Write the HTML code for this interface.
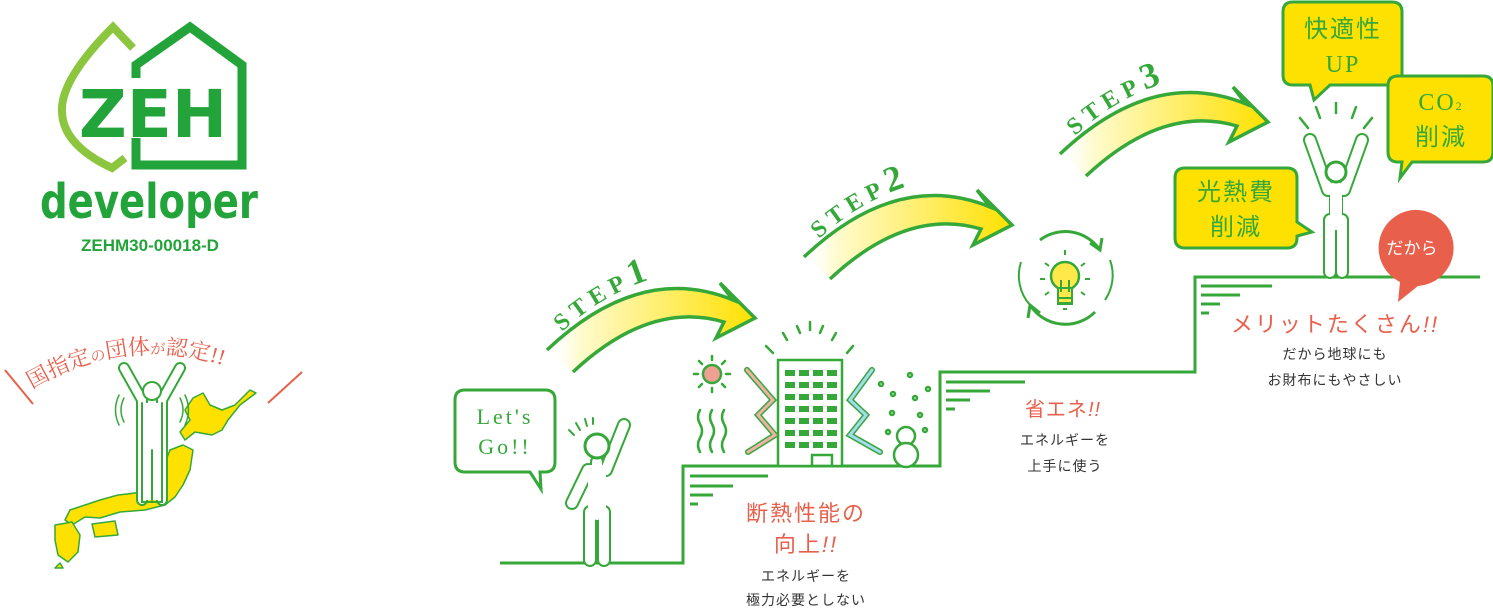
<!DOCTYPE html>
<html><head><meta charset="utf-8"><style>
html,body{margin:0;padding:0;background:#fff;}
svg{display:block;}
text{font-family:"Liberation Sans","Noto Sans CJK JP",sans-serif;}
text.jp{font-family:"Liberation Serif","Noto Serif CJK SC","Noto Sans CJK JP",serif;}
text.st{font-family:"Liberation Serif",serif;font-weight:bold;}
text.dj{font-family:"DejaVu Sans",sans-serif;font-weight:bold;}
</style></head><body>
<svg width="1493" height="612" viewBox="0 0 1493 612" xmlns="http://www.w3.org/2000/svg">
<defs>
<linearGradient id="ag" x1="0" y1="0" x2="1" y2="0">
<stop offset="0" stop-color="#fff" stop-opacity="0"/><stop offset="0.15" stop-color="#fffbd0"/><stop offset="1" stop-color="#ffe100"/>
</linearGradient>
<g id="arrow">
<path d="M547,350 Q640,262 733,300 L720,283 L755,318 L716,338 L724,322 Q650,300 573,372 Z" fill="url(#ag)" stroke="none"/>
<path d="M547,350 Q640,262 733,300 L720,283 L755,318 L716,338 L724,322 Q650,300 573,372" fill="none" stroke="#36a83a" stroke-width="3.5" stroke-linejoin="miter"/>
</g>
<path id="tp" d="M562,332 Q620,278 700,268"/>
</defs>

<!-- ZEH logo -->
<path d="M133,48 L113,27 Q60,80 62,112 Q63,145 112,168 L125,158" fill="none" stroke="#8cc63f" stroke-width="8"/>
<path d="M136,138 L136,165 L242,165 L242,65 L190,27 L136,65 L136,78" fill="none" stroke="#22a43a" stroke-width="9" stroke-linejoin="miter"/>
<text class="dj" x="153" y="137" font-size="66" fill="#22a43a" text-anchor="middle">ZEH</text>
<text class="dj" x="149" y="218" font-size="48" fill="#22a43a" text-anchor="middle" textLength="218" lengthAdjust="spacingAndGlyphs">developer</text>
<text x="150" y="251" font-size="17" font-weight="bold" fill="#22a43a" text-anchor="middle">ZEHM30-00018-D</text>

<!-- certification -->
<line x1="5" y1="370" x2="33" y2="404" stroke="#e8604c" stroke-width="2"/>
<line x1="268" y1="403" x2="302" y2="372" stroke="#e8604c" stroke-width="2"/>
<path id="arc" d="M30,390 Q150,318 280,390" fill="none"/>
<text class="jp" font-size="22" fill="#e8604c"><textPath href="#arc" startOffset="2">国指定<tspan font-size="15">の</tspan>団体<tspan font-size="15">が</tspan>認定!!</textPath></text>
<g fill="#ffe100" stroke="#36a83a" stroke-width="1.5" stroke-linejoin="round">
<path d="M193,398 L203,393 L210,405 L222,410 L235,405 L250,390 L256,393 L240,405 L228,420 L222,430 L212,435 L195,432 L185,440 L180,432 L190,420 L185,410 Z"/>
<path d="M183,445 L193,450 L190,470 L183,485 L175,497 L165,505 L145,510 L120,512 L100,518 L85,517 L72,525 L65,520 L70,510 L85,505 L100,500 L118,495 L135,493 L150,488 L162,470 L170,450 Z"/>
<path d="M92,524 L115,521 L118,535 L95,537 Z"/>
<path d="M55,525 L72,522 L80,535 L78,552 L68,562 L58,555 L55,540 Z"/>
<path d="M55,568 L60,563 L63,568 Z"/>
</g>
<g stroke-linecap="round" fill="none">
<path d="M124,368 L142,400 L142,500 M180,368 L162,400 L162,500" stroke="#36a83a" stroke-width="12"/>
<path d="M124,368 L142,400 L142,500 M180,368 L162,400 L162,500" stroke="#fff" stroke-width="8"/>
<path d="M142,403 L162,403 L162,500 L142,500 Z" fill="#fff" stroke="none"/>
<line x1="152" y1="450" x2="152" y2="500" stroke="#36a83a" stroke-width="2"/>
<path d="M142,403 L142,502 L162,502 L162,403" stroke="#36a83a" stroke-width="2"/>
<circle cx="152" cy="391" r="9" fill="#fff" stroke="#36a83a" stroke-width="2"/>
<path d="M124,398 Q118,410 124,422 M119,395 Q112,410 119,425 M180,398 Q186,410 180,422 M185,395 Q192,410 185,425" stroke="#36a83a" stroke-width="1.5"/>
</g>

<!-- staircase -->
<g stroke="#36a83a" stroke-width="3" fill="none">
<path d="M500,563 L683,563 L683,466 L940,466 L940,372 L1195,372 L1195,277 L1480,277"/>
<path d="M690,476 L768,476 M690,486 L733,486 M690,495 L713,495 M690,504 L698,504"/>
<path d="M946,382 L1025,382 M946,391 L990,391 M946,400 L970,400 M946,409 L955,409"/>
<path d="M1201,286 L1272,286 M1201,295 L1240,295 M1201,304 L1220,304 M1201,313 L1209,313"/>
</g>

<!-- arrows -->
<use href="#arrow"/>
<use href="#arrow" transform="translate(257,-93)"/>
<use href="#arrow" transform="translate(513,-196)"/>
<g fill="#36a83a">
<text class="st" font-size="24" letter-spacing="6"><textPath href="#tp">STEP<tspan font-size="36">1</tspan></textPath></text>
<text class="st" font-size="24" letter-spacing="6" transform="translate(257,-93)"><textPath href="#tp">STEP<tspan font-size="36">2</tspan></textPath></text>
<text class="st" font-size="24" letter-spacing="6" transform="translate(513,-196)"><textPath href="#tp">STEP<tspan font-size="36">3</tspan></textPath></text>
</g>

<!-- Let's go -->
<path d="M465,390 L545,390 Q555,390 555,400 L555,462 Q555,472 545,472 L540,472 L541,489 L530,472 L465,472 Q455,472 455,462 L455,400 Q455,390 465,390 Z" fill="#fff" stroke="#36a83a" stroke-width="3"/>
<text class="jp" x="505" y="424" font-size="22" fill="#36a83a" text-anchor="middle" letter-spacing="3">Let's</text>
<text class="jp" x="505" y="454" font-size="22" fill="#36a83a" text-anchor="middle" letter-spacing="3">Go!!</text>
<g stroke-linecap="round" fill="none">
<path d="M597,462 L597,515 M590,512 L590,560 M604,512 L604,560 M588,470 L572,503 M606,470 L624,425" stroke="#36a83a" stroke-width="14"/>
<path d="M597,462 L597,515 M590,512 L590,560 M604,512 L604,560 M588,470 L572,503 M606,470 L624,425" stroke="#fff" stroke-width="10"/>
<rect x="588" y="465" width="18" height="48" fill="#fff" stroke="none"/>
<circle cx="597" cy="446" r="12" fill="#fff" stroke="#36a83a" stroke-width="3"/>
<path d="M569,430 L574,435 M576,423 L580,430 M585,419 L587,426 M593,418 L593,424" stroke="#36a83a" stroke-width="2"/>
</g>

<!-- building scene -->
<g stroke="#36a83a" stroke-width="2.5" fill="none" stroke-linecap="round">
<circle cx="712" cy="374" r="9" fill="#f0a093"/>
<path d="M712,356 L712,360 M712,388 L712,392 M694,374 L698,374 M726,374 L730,374 M699,361 L702,364 M722,384 L725,387 M725,361 L722,364 M699,387 L702,384"/>
<path d="M700,410 q-4,7 0,14 q4,7 0,14 q-4,7 0,14 M712,410 q-4,7 0,14 q4,7 0,14 q-4,7 0,14 M724,410 q-4,7 0,14 q4,7 0,14 q-4,7 0,14"/>
<rect x="778" y="360" width="64" height="106" fill="#fff"/>
<rect x="812" y="455" width="20" height="11"/>
<path d="M766,346 L773,353 M783,333 L787,340 M810,322 L810,330 M836,333 L832,340 M853,346 L847,353 M797,326 L800,333 M823,326 L820,333"/>
<path d="M747,370 L773,400 L758,415 L775,435 L748,452" stroke-width="6"/>
<path d="M747,370 L773,400 L758,415 L775,435 L748,452" stroke="#f2b0a6" stroke-width="3"/>
<path d="M872,370 L850,400 L866,415 L850,435 L880,452" stroke-width="6"/>
<path d="M872,370 L850,400 L866,415 L850,435 L880,452" stroke="#a7daf2" stroke-width="3"/>
<circle cx="906" cy="436" r="9" fill="#fff"/><circle cx="906" cy="455" r="12" fill="#fff"/>
<circle cx="881" cy="384" r="2"/><circle cx="910" cy="375" r="2"/><circle cx="893" cy="394" r="2"/><circle cx="915" cy="398" r="2"/><circle cx="928" cy="389" r="2"/><circle cx="892" cy="413" r="2"/><circle cx="920" cy="415" r="2"/><circle cx="888" cy="432" r="2"/><circle cx="925" cy="430" r="2"/>
</g>
<g fill="#36a83a">
<rect x="785" y="370" width="10" height="6"/><rect x="799" y="370" width="10" height="6"/><rect x="813" y="370" width="10" height="6"/><rect x="827" y="370" width="10" height="6"/>
<rect x="785" y="382" width="10" height="6"/><rect x="799" y="382" width="10" height="6"/><rect x="813" y="382" width="10" height="6"/><rect x="827" y="382" width="10" height="6"/>
<rect x="785" y="394" width="10" height="6"/><rect x="799" y="394" width="10" height="6"/><rect x="813" y="394" width="10" height="6"/><rect x="827" y="394" width="10" height="6"/>
<rect x="785" y="406" width="10" height="6"/><rect x="799" y="406" width="10" height="6"/><rect x="813" y="406" width="10" height="6"/><rect x="827" y="406" width="10" height="6"/>
<rect x="785" y="418" width="10" height="6"/><rect x="799" y="418" width="10" height="6"/><rect x="813" y="418" width="10" height="6"/><rect x="827" y="418" width="10" height="6"/>
<rect x="785" y="430" width="10" height="6"/><rect x="799" y="430" width="10" height="6"/><rect x="813" y="430" width="10" height="6"/><rect x="827" y="430" width="10" height="6"/>
<rect x="785" y="442" width="10" height="6"/><rect x="799" y="442" width="10" height="6"/><rect x="813" y="442" width="10" height="6"/><rect x="827" y="442" width="10" height="6"/>
</g>
<text x="806" y="521" font-size="22" fill="#e8604c" text-anchor="middle" letter-spacing="2">断熱性能の</text>
<text x="806" y="552" font-size="22" fill="#e8604c" text-anchor="middle" letter-spacing="2">向上<tspan font-style="italic">!!</tspan></text>
<text x="806" y="581" font-size="14" fill="#333" text-anchor="middle" letter-spacing="1">エネルギーを</text>
<text x="806" y="605" font-size="14" fill="#333" text-anchor="middle" letter-spacing="1">極力必要としない</text>

<!-- bulb -->
<g stroke="#36a83a" stroke-width="3" fill="none">
<path d="M1100,250 A42,42 0 0,0 1040,240 M1090,243 L1100,250 L1102,238"/>
<path d="M1030,305 A42,42 0 0,0 1095,312 M1040,313 L1030,305 L1028,318"/>
<path d="M1021,262 A44,44 0 0,0 1030,305" stroke-width="2"/>
<path d="M1105,300 A44,44 0 0,0 1110,260" stroke-width="2"/>
<circle cx="1065" cy="276" r="14" fill="#ffe94a" stroke-width="2.5"/>
<rect x="1058" y="288" width="14" height="16" fill="#ffe94a" stroke-width="2"/>
<path d="M1058,298 L1072,298 M1058,303 L1072,303 M1063,309 L1067,309 M1061,280 L1061,292 M1069,280 L1069,292" stroke-width="2"/>
<path d="M1065,250 L1065,255 M1045,263 L1049,266 M1085,263 L1081,266 M1040,279 L1045,279 M1085,279 L1090,279 M1045,295 L1049,292 M1085,295 L1081,292" stroke-width="2"/>
</g>
<text x="1063" y="416" font-size="20" fill="#e8604c" text-anchor="middle" letter-spacing="1">省エネ<tspan font-style="italic">!!</tspan></text>
<text x="1065" y="445" font-size="14" fill="#333" text-anchor="middle" letter-spacing="1">エネルギーを</text>
<text x="1065" y="471" font-size="14" fill="#333" text-anchor="middle" letter-spacing="1">上手に使う</text>

<!-- person 3 + bubbles -->
<g stroke-linecap="round" fill="none">
<path d="M1336,185 L1336,225 M1330,220 L1330,272 M1342,220 L1342,272 M1328,190 L1310,140 M1344,190 L1362,140" stroke="#36a83a" stroke-width="14"/>
<path d="M1336,185 L1336,225 M1330,220 L1330,272 M1342,220 L1342,272 M1328,190 L1310,140 M1344,190 L1362,140" stroke="#fff" stroke-width="10"/>
<rect x="1330" y="188" width="12" height="36" fill="#fff" stroke="none"/>
<line x1="1336" y1="232" x2="1336" y2="274" stroke="#36a83a" stroke-width="2"/>
<circle cx="1336" cy="172" r="10" fill="#fff" stroke="#36a83a" stroke-width="3"/>
<path d="M1300,118 L1308,128 M1316,107 L1320,118 M1336,103 L1336,113 M1356,107 L1352,118 M1372,118 L1364,128" stroke="#36a83a" stroke-width="2.5"/>
</g>
<g fill="#ffe100" stroke="#36a83a" stroke-width="3">
<path d="M1293,2 L1392,2 Q1402,2 1402,12 L1402,75 Q1402,85 1392,85 L1330,85 L1314,100 L1310,85 L1293,85 Q1283,85 1283,75 L1283,12 Q1283,2 1293,2 Z"/>
<path d="M1398,76 L1483,76 Q1493,76 1493,86 L1493,152 Q1493,162 1483,162 L1412,162 L1400,178 L1402,162 L1398,162 Q1388,162 1388,152 L1388,86 Q1388,76 1398,76 Z"/>
<path d="M1185,168 L1287,168 Q1297,168 1297,178 L1297,222 L1312,232 L1297,236 L1297,238 Q1297,248 1287,248 L1185,248 Q1175,248 1175,238 L1175,178 Q1175,168 1185,168 Z"/>
</g>
<g fill="#36a83a" font-size="24" text-anchor="middle" letter-spacing="2">
<text x="1343" y="37">快適性</text>
<text x="1343" y="72" class="jp">UP</text>
<text x="1441" y="110" class="jp">CO<tspan font-size="12">2</tspan></text>
<text x="1441" y="145">削減</text>
<text x="1236" y="200">光熱費</text>
<text x="1236" y="235">削減</text>
</g>
<path d="M1413,210 A38,38 0 1,1 1418,286 L1398,302 L1400,282 A38,38 0 0,1 1413,210 Z" fill="#e8604c"/>
<text x="1412" y="254" font-size="17" fill="#fff" text-anchor="middle">だから</text>
<text x="1335" y="332" font-size="22" fill="#e8604c" text-anchor="middle" letter-spacing="2">メリットたくさん<tspan font-style="italic">!!</tspan></text>
<text x="1335" y="359" font-size="14" fill="#333" text-anchor="middle" letter-spacing="1">だから地球にも</text>
<text x="1335" y="385" font-size="14" fill="#333" text-anchor="middle" letter-spacing="1">お財布にもやさしい</text>
</svg>
</body></html>
